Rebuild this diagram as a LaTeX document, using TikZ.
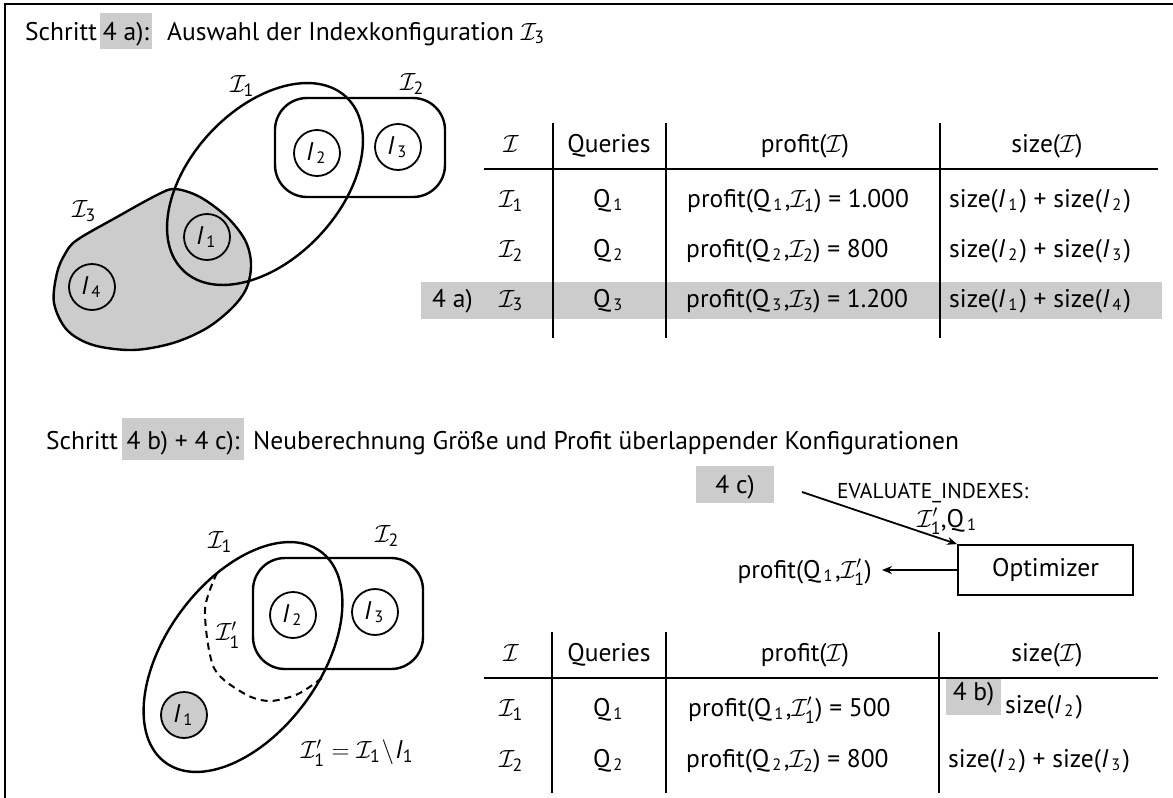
\documentclass[tikz,border=0pt]{standalone}
\usepackage{amsmath}
\usepackage{fontspec}
\setmainfont{PT Sans}
\usetikzlibrary{arrows.meta}
\definecolor{lg}{gray}{0.8}
\newcommand\sbx[1]{\kern3pt\raisebox{-3.5pt}{\fontsize{16.5}{16}\selectfont #1}\kern2.5pt}
\newcommand\CI[1]{$\mathcal{I}_{\text{#1}}$}
\newcommand\CIp[1]{$\mathcal{I}'_{\text{#1}}$}
\newcommand\Qx[1]{Q\sbx{#1}}
\newcommand\Ix[1]{\textit{I}\sbx{#1}}
\newcommand\fnt{\fontsize{25.5}{30}\selectfont}
\tikzset{
  txt/.style={inner sep=0pt, font=\fnt},
  cell/.style={txt, anchor=base},
  cellw/.style={txt, anchor=base west},
  ln/.style={line width=2.2pt},
  shp/.style={line width=2.4pt},
  idx/.style={circle, draw, line width=1.8pt, minimum size=46pt, inner sep=0pt, font=\fnt},
  gbox/.style={fill=lg, inner sep=0pt, anchor=base, font=\fnt},
  arr/.style={line width=1.8pt, -{Stealth[length=10pt,width=8pt]}},
  lbl/.style={inner sep=0pt, font=\fnt},
}
\begin{document}
\begin{tikzpicture}[x=1pt,y=-1pt]
\useasboundingbox (0,0) rectangle (1173,798);
% frame
\draw[line width=1.5pt] (5,798) -- (5,4) -- (1173,4);

% ---------- Title 1
\node[cellw] (t1a) at (25,40) {Schritt};
\node[gbox, text height=27pt, text depth=9pt, minimum width=52pt] (t1b) at (126,40) {4 a):};
\node[cellw] (t1c) at (167,40) {Auswahl der Indexkonfiguration \CI{3}};

% ---------- Top diagram
\draw[shp, fill=lg] plot[smooth cycle, tension=0.55] coordinates {
  (77,240) (117,217) (157,195) (175,189) (200,197) (227,217) (245,240)
  (251,263) (247,287) (233,307) (207,328) (173,343) (133,350) (93,345)
  (67,330) (54,303) (57,273) (65,254)};
\draw[shp, rotate around={47:(265,184)}] (265,184) ellipse [x radius=119, y radius=75];
\draw[shp, rounded corners=32pt] (275,98) rectangle (445,197);
\node[idx] (a2) at (317,153) {\Ix{2}};
\node[idx] (a3) at (398,147) {\Ix{3}};
\node[idx] (a1) at (207,237) {\Ix{1}};
\node[idx] (a4) at (92,287) {\Ix{4}};
\node[lbl] (la1) at (242,86) {\CI{1}};
\node[lbl] (la2) at (412,84) {\CI{2}};
\node[lbl] (la3) at (84,211) {\CI{3}};

% ---------- Top table
\fill[lg] (421,282) rectangle (1162,319);
\draw[ln] (553,123) -- (553,338);
\draw[ln] (666,123) -- (666,338);
\draw[ln] (940,123) -- (940,338);
\draw[ln] (484,169) -- (1158,169);
\node[cell] (h1) at (511,152) {$\mathcal{I}$};
\node[cell] (h2) at (609,152) {Queries};
\node[cell] (h3) at (805,152) {profit($\mathcal{I}$)};
\node[cell] (h4) at (1047,152) {size($\mathcal{I}$)};
\node[cell] (r11) at (511,207) {\CI{1}};
\node[cell] (r12) at (609,207) {\Qx{1}};
\node[cellw] (r13) at (687,207) {profit(\Qx{1},\CI{1}) = 1.000};
\node[cellw] (r14) at (949,207) {size(\Ix{1}) + size(\Ix{2})};
\node[cell] (r21) at (511,257) {\CI{2}};
\node[cell] (r22) at (609,257) {\Qx{2}};
\node[cellw] (r23) at (686,257) {profit(\Qx{2},\CI{2}) = 800};
\node[cellw] (r24) at (949,257) {size(\Ix{2}) + size(\Ix{3})};
\node[cellw] (r30) at (432,307) {4 a)};
\node[cell] (r31) at (511,307) {\CI{3}};
\node[cell] (r32) at (609,307) {\Qx{3}};
\node[cellw] (r33) at (686,307) {profit(\Qx{3},\CI{3}) = 1.200};
\node[cellw] (r34) at (949,307) {size(\Ix{1}) + size(\Ix{4})};

% ---------- Title 2
\node[cellw] (t2a) at (46,449) {Schritt};
\node[gbox, text height=31pt, text depth=11pt, minimum width=122pt] (t2b) at (183,449) {4 b) + 4 c):};
\node[cellw] (t2c) at (253,449) {Neuberechnung Größe und Profit überlappender Konfigurationen};

% ---------- Bottom diagram
\draw[shp, rotate around={53.6:(243,657)}] (243,657) ellipse [x radius=131, y radius=77];
\draw[shp, rounded corners=32pt] (253,558) rectangle (423,669);
\draw[line width=2pt, dash pattern=on 7pt off 5pt] plot[smooth] coordinates {
  (217,573) (205,610) (214,668) (245,694) (270,701) (298,694) (322,678)};
\node[idx] (b2) at (293,615) {\Ix{2}};
\node[idx] (b3) at (375,612) {\Ix{3}};
\node[idx, fill=lg] (b1) at (184,715) {\Ix{1}};
\node[lbl] (lb1) at (220,542) {\CI{1}};
\node[lbl] (lb2) at (387,536) {\CI{2}};
\node[lbl] (lb1p) at (228,635) {\CIp{1}};
\node[lbl] (eq) at (357,753) {$\mathcal{I}'_{\text{1}} = \mathcal{I}_{\text{1}}\!\setminus\! \text{\textit{I}}_{\text{1}}$};

% ---------- Optimizer part
\node[gbox, text height=27pt, text depth=10pt, minimum width=78pt] (c4) at (735,493) {4 c)};
\node[draw, line width=1.8pt, minimum width=175pt, minimum height=50pt, inner sep=0pt, font=\fnt] (opt) at (1045.5,570) {Optimizer};
\coordinate (ev0) at (802,492);
\draw[arr] (ev0) -- (opt.north west);
\node[inner sep=0pt, anchor=base west, font=\fontsize{21.5}{24}\selectfont] (ev) at (837,498) {EVALUATE\_INDEXES:};
\node[cellw] (evq) at (917,527) {\CIp{1},\Qx{1}};
\node[txt, anchor=base east] (pl) at (872,578) {profit(\Qx{1},\CIp{1})};
\coordinate (pe) at (882,570);
\draw[arr] (opt.west) -- (pe);

% ---------- Bottom table
\draw[ln] (552,632) -- (552,793);
\draw[ln] (666,632) -- (666,793);
\draw[ln] (939,632) -- (939,793);
\draw[ln] (484,678) -- (1158,678);
\node[cell] (g1) at (511,661) {$\mathcal{I}$};
\node[cell] (g2) at (609,661) {Queries};
\node[cell] (g3) at (805,661) {profit($\mathcal{I}$)};
\node[cell] (g4) at (1047,661) {size($\mathcal{I}$)};
\node[cell] (s11) at (511,716) {\CI{1}};
\node[cell] (s12) at (609,716) {\Qx{1}};
\node[cellw] (s13) at (688,716) {profit(\Qx{1},\CIp{1}) = 500};
\node[gbox, text height=21pt, text depth=15pt, minimum width=55pt] (b4) at (973.5,700) {4 b)};
\node[cellw] (s14) at (1005,713) {size(\Ix{2})};
\node[cell] (s21) at (511,767) {\CI{2}};
\node[cell] (s22) at (609,767) {\Qx{2}};
\node[cellw] (s23) at (686,767) {profit(\Qx{2},\CI{2}) = 800};
\node[cellw] (s24) at (948,767) {size(\Ix{2}) + size(\Ix{3})};
\end{tikzpicture}
\end{document}
